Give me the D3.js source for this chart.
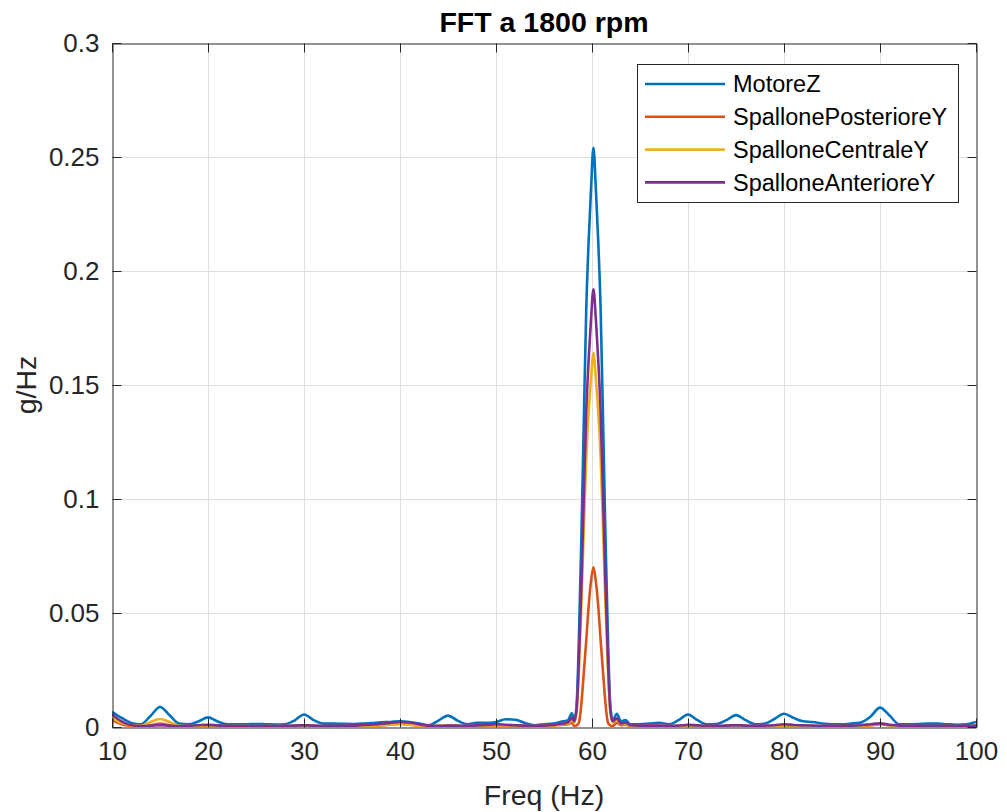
<!DOCTYPE html>
<html lang="en">
  <head>
    <meta charset="utf-8">
    <title>FFT a 1800 rpm</title>
    <style>
      body {
        margin: 0;
        background: #fff;
        font-family: "Liberation Sans", Arial, Helvetica, sans-serif;
      }
    </style>
  </head>
  <body>
    <svg width="1007" height="812"></svg>
    <script src="https://d3js.org/d3.v7.min.js"></script>
    <script>
      // frequency grid (Hz), denser around the 60 Hz peak
      const freq = [
        10, 11, 12, 13, 14, 15, 16, 17, 18, 19,
        20, 21, 22, 23, 24, 25, 26, 27, 28, 29,
        30, 31, 32, 33, 34, 35, 36, 37, 38, 39,
        40, 41, 42, 43, 44, 45, 46, 47, 48, 49,
        50, 51, 52, 53, 54, 55, 56, 57, 57.5, 57.9,
        58.15, 58.4, 58.65, 58.9, 59.15, 59.4, 59.65, 59.9, 60.15,
        60.4, 60.65, 60.9, 61.15, 61.4, 61.65, 61.9, 62.15,
        62.6, 63, 63.5, 64, 65, 66, 67, 68, 69,
        70, 71, 72, 73, 74, 75, 76, 77, 78, 79,
        80, 81, 82, 83, 84, 85, 86, 87, 88, 89,
        90, 91, 92, 93, 94, 95, 96, 97, 98, 99, 100
      ];

      const motoreZ = [
        .0067, .0040, .0018, .0012, .0048, .0088, .0052, .0015, .0012, .0024,
        .0042, .0024, .0012, .0012, .0012, .0013, .0012, .0011, .0012, .0028,
        .0055, .0030, .0015, .0015, .0014, .0013, .0015, .0017, .0021, .0022,
        .0025, .0022, .0015, .0008, .0028, .0050, .0028, .0012, .0018, .0018,
        .0022, .0034, .0032, .0018, .0008, .0012, .0015, .0025, .0030, .0060,
        .0030, .0100, .0410, .0840, .1350, .1830, .2130, .2360, .2540,
        .2360, .2130, .1830, .1350, .0840, .0410, .0100, .0030,
        .0058, .0025, .0030, .0012, .0012, .0015, .0018, .0012, .0030,
        .0055, .0030, .0012, .0013, .0030, .0052, .0030, .0012, .0015, .0035,
        .0058, .0040, .0025, .0022, .0015, .0012, .0012, .0015, .0020, .0045,
        .0085, .0050, .0012, .0012, .0013, .0015, .0015, .0012, .0010, .0012, .0022
      ];

      const spallonePosterioreY = [
        .0030, .0012, .0005, .0004, .0008, .0015, .0008, .0003, .0003, .0004,
        .0006, .0004, .0003, .0003, .0003, .0003, .0003, .0003, .0003, .0004,
        .0006, .0004, .0003, .0003, .0003, .0003, .0004, .0005, .0007, .0010,
        .0015, .0010, .0006, .0003, .0004, .0005, .0004, .0003, .0004, .0005,
        .0006, .0007, .0006, .0004, .0003, .0004, .0006, .0010, .0012, .0020,
        .0004, .0007, .0021, .0105, .0240, .0380, .0530, .0640, .0700,
        .0640, .0530, .0380, .0240, .0105, .0021, .0007, .0004,
        .0018, .0008, .0010, .0004, .0003, .0004, .0004, .0003, .0004,
        .0007, .0004, .0003, .0003, .0004, .0006, .0004, .0003, .0003, .0004,
        .0007, .0005, .0004, .0004, .0003, .0003, .0003, .0003, .0004, .0007,
        .0012, .0007, .0003, .0003, .0003, .0003, .0003, .0003, .0003, .0003, .0004
      ];

      const spalloneCentraleY = [
        .0040, .0018, .0006, .0005, .0022, .0035, .0022, .0005, .0004, .0005,
        .0008, .0005, .0004, .0004, .0004, .0004, .0004, .0004, .0004, .0005,
        .0008, .0005, .0004, .0004, .0004, .0004, .0005, .0006, .0008, .0010,
        .0012, .0010, .0006, .0004, .0005, .0007, .0005, .0004, .0005, .0006,
        .0007, .0008, .0007, .0005, .0004, .0005, .0008, .0012, .0015, .0030,
        .0020, .0070, .0260, .0540, .0870, .1180, .1380, .1530, .1640,
        .1530, .1380, .1180, .0870, .0540, .0260, .0070, .0020,
        .0030, .0012, .0015, .0005, .0004, .0005, .0005, .0004, .0005,
        .0008, .0005, .0004, .0004, .0005, .0007, .0005, .0004, .0004, .0005,
        .0008, .0006, .0005, .0005, .0004, .0004, .0004, .0004, .0005, .0008,
        .0014, .0008, .0004, .0004, .0004, .0004, .0004, .0004, .0004, .0004, .0005
      ];

      const spalloneAnterioreY = [
        .0055, .0025, .0008, .0004, .0005, .0008, .0005, .0004, .0005, .0008,
        .0010, .0007, .0005, .0004, .0004, .0004, .0004, .0004, .0005, .0006,
        .0008, .0006, .0005, .0005, .0005, .0006, .0008, .0010, .0014, .0018,
        .0022, .0020, .0012, .0006, .0005, .0006, .0006, .0005, .0007, .0009,
        .0012, .0010, .0008, .0006, .0005, .0006, .0010, .0015, .0020, .0040,
        .0025, .0080, .0310, .0630, .1020, .1380, .1610, .1790, .1920,
        .1790, .1610, .1380, .1020, .0630, .0310, .0080, .0025,
        .0038, .0015, .0020, .0008, .0006, .0006, .0006, .0005, .0006,
        .0010, .0007, .0005, .0005, .0006, .0008, .0006, .0005, .0006, .0008,
        .0012, .0009, .0007, .0006, .0005, .0005, .0005, .0006, .0008, .0012,
        .0016, .0010, .0006, .0005, .0005, .0005, .0005, .0005, .0005, .0005, .0006
      ];

      const seriesNames = ["MotoreZ", "SpallonePosterioreY", "SpalloneCentraleY", "SpalloneAnterioreY"];
      const seriesColors = ["#0072BD", "#D95319", "#EDB120", "#7E2F8E"];
      const seriesValues = [motoreZ, spallonePosterioreY, spalloneCentraleY, spalloneAnterioreY];

      const xTicks = [10, 20, 30, 40, 50, 60, 70, 80, 90, 100];
      const yTicks = [0, 0.05, 0.1, 0.15, 0.2, 0.25, 0.3];
      const yTickLabels = ["0", "0.05", "0.1", "0.15", "0.2", "0.25", "0.3"];

      const plotLeft = 112, plotRight = 976, plotTop = 43, plotBottom = 727;
      const axisColor = "#262626";

      const svg = d3.select("svg");

      const x = d3.scaleLinear().domain([10, 100]).range([plotLeft, plotRight]);
      const y = d3.scaleLinear().domain([0, 0.3]).range([plotBottom, plotTop]);

      // grid
      const grid = svg.append("g")
          .attr("stroke", "#dfdfdf")
          .attr("stroke-width", 1);
      grid.selectAll("line.gx")
        .data(xTicks.slice(1, -1))
        .join("line")
          .attr("class", "gx")
          .attr("x1", d => Math.round(x(d)) + 0.5)
          .attr("x2", d => Math.round(x(d)) + 0.5)
          .attr("y1", plotTop)
          .attr("y2", plotBottom);
      grid.selectAll("line.gy")
        .data(yTicks.slice(1, -1))
        .join("line")
          .attr("class", "gy")
          .attr("y1", d => Math.round(y(d)) + 0.5)
          .attr("y2", d => Math.round(y(d)) + 0.5)
          .attr("x1", plotLeft)
          .attr("x2", plotRight);

      svg.append("clipPath")
          .attr("id", "plotclip")
        .append("rect")
          .attr("x", plotLeft)
          .attr("y", plotTop)
          .attr("width", plotRight - plotLeft)
          .attr("height", plotBottom - plotTop);

      const line = d3.line()
        .x((d, i) => x(freq[i]))
        .y(d => y(d))
        .curve(d3.curveMonotoneX);

      svg.append("g")
          .attr("clip-path", "url(#plotclip)")
        .selectAll("path")
        .data(seriesValues)
        .join("path")
          .attr("d", d => line(d))
          .attr("fill", "none")
          .attr("stroke", (d, i) => seriesColors[i])
          .attr("stroke-width", 2.6)
          .attr("stroke-linejoin", "round");

      // axes: bottom + top, left + right, ticks inward
      const tickLen = 9;
      const xBottom = svg.append("g")
          .attr("transform", `translate(0,${plotBottom + 0.5})`)
          .call(d3.axisBottom(x).tickValues(xTicks).tickSizeInner(-tickLen).tickSizeOuter(0).tickPadding(14));
      svg.append("g")
          .attr("transform", `translate(0,${plotTop + 0.5})`)
          .call(d3.axisTop(x).tickValues(xTicks).tickSizeInner(-tickLen).tickSizeOuter(0).tickFormat(""));
      svg.append("g")
          .attr("transform", `translate(${plotLeft + 0.5},0)`)
          .call(d3.axisLeft(y).tickValues(yTicks).tickSizeInner(-tickLen).tickSizeOuter(0).tickPadding(13)
            .tickFormat((d, i) => yTickLabels[i]));
      svg.append("g")
          .attr("transform", `translate(${plotRight + 0.5},0)`)
          .call(d3.axisRight(y).tickValues(yTicks).tickSizeInner(-tickLen).tickSizeOuter(0).tickFormat(""));

      svg.selectAll(".domain, .tick line")
          .attr("stroke", axisColor);
      svg.selectAll(".tick text")
          .attr("fill", axisColor)
          .attr("font-size", 26)
          .attr("font-family", "Liberation Sans, Arial, sans-serif");
      xBottom.selectAll(".tick text").attr("dy", "0.71em");

      // title and labels
      svg.append("text")
          .attr("x", (plotLeft + plotRight) / 2)
          .attr("y", 32)
          .attr("text-anchor", "middle")
          .attr("font-size", 28.5)
          .attr("font-weight", "bold")
          .attr("fill", "#000")
          .text("FFT a 1800 rpm");

      svg.append("text")
          .attr("x", (plotLeft + plotRight) / 2)
          .attr("y", 805)
          .attr("text-anchor", "middle")
          .attr("font-size", 28.5)
          .attr("fill", axisColor)
          .text("Freq (Hz)");

      svg.append("text")
          .attr("transform", `translate(36,${(plotTop + plotBottom) / 2}) rotate(-90)`)
          .attr("text-anchor", "middle")
          .attr("font-size", 28.5)
          .attr("fill", axisColor)
          .text("g/Hz");

      // legend
      const legend = svg.append("g");
      legend.append("rect")
          .attr("x", 637.5)
          .attr("y", 64.5)
          .attr("width", 321)
          .attr("height", 138)
          .attr("fill", "#fff")
          .attr("stroke", axisColor)
          .attr("stroke-width", 1);

      const rows = legend.selectAll("g.row")
        .data(seriesNames)
        .join("g")
          .attr("class", "row")
          .attr("transform", (d, i) => `translate(0,${84 + i * 32.8})`);
      rows.append("line")
          .attr("x1", 645)
          .attr("x2", 725)
          .attr("stroke", (d, i) => seriesColors[i])
          .attr("stroke-width", 2.6);
      rows.append("text")
          .attr("x", 733)
          .attr("dy", "0.35em")
          .attr("font-size", 23.5)
          .attr("fill", "#000")
          .text(d => d);
    </script>
  </body>
</html>
